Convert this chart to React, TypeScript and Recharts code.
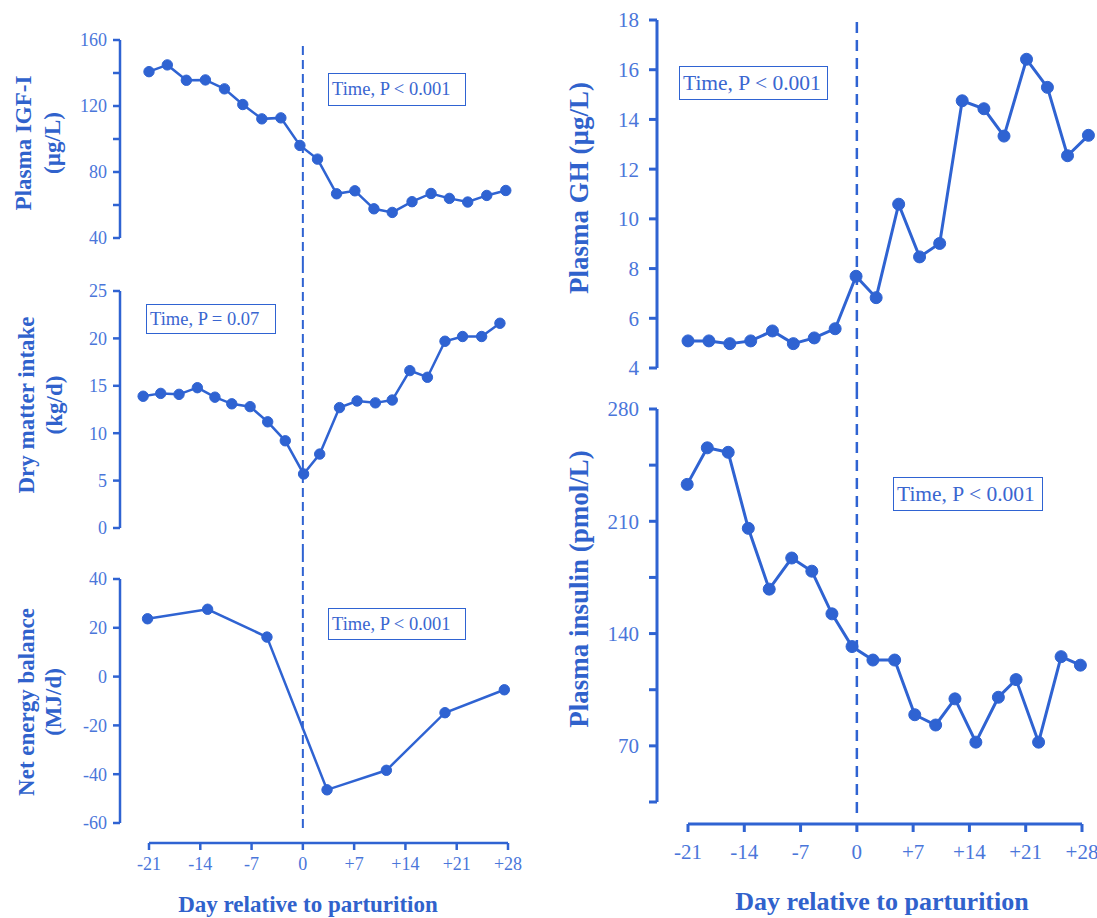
import { LineChart, Line, XAxis, YAxis, ReferenceLine } from "recharts";

const dayTicks = [-21, -14, -7, 0, 7, 14, 21, 28];

const igfDays = [-21.0, -18.5, -15.9, -13.3, -10.7, -8.2, -5.6, -3.0, -0.4, 2.0, 4.6, 7.1, 9.7, 12.2, 14.9, 17.5, 20.0, 22.5, 25.1, 27.7];
const igf = [140.8, 144.9, 135.6, 135.8, 130.4, 120.9, 112.2, 112.8, 96.1, 87.8, 66.8, 68.6, 57.7, 55.5, 62.0, 67.0, 64.0, 61.8, 65.8, 68.8];
const igfTicks = [40, 60, 80, 100, 120, 140, 160];

const dmiDays = [-21.8, -19.4, -16.9, -14.4, -12.0, -9.7, -7.2, -4.8, -2.4, 0.1, 2.3, 5.0, 7.4, 9.9, 12.2, 14.6, 17.0, 19.4, 21.8, 24.4, 26.9];
const dmi = [13.9, 14.2, 14.1, 14.8, 13.8, 13.1, 12.8, 11.2, 9.2, 5.7, 7.8, 12.7, 13.4, 13.2, 13.5, 16.6, 15.9, 19.7, 20.2, 20.2, 21.6];
const dmiTicks = [0, 5, 10, 15, 20, 25];

const nebDays = [-21.2, -13.0, -4.9, 3.3, 11.4, 19.4, 27.5];
const neb = [23.7, 27.6, 16.2, -46.4, -38.4, -14.8, -5.4];
const nebTicks = [-60, -40, -20, 0, 20, 40];

const ghDays = [-21.0, -18.4, -15.8, -13.2, -10.5, -7.9, -5.3, -2.7, -0.1, 2.4, 5.2, 7.8, 10.3, 13.1, 15.8, 18.3, 21.1, 23.7, 26.2, 28.8];
const gh = [5.09, 5.09, 4.98, 5.09, 5.49, 4.98, 5.21, 5.58, 7.69, 6.83, 10.59, 8.47, 9.01, 14.75, 14.43, 13.33, 16.42, 15.29, 12.54, 13.36];
const ghTicks = [4, 6, 8, 10, 12, 14, 16, 18];

const insDays = [-21.1, -18.6, -16.0, -13.5, -10.9, -8.1, -5.6, -3.1, -0.6, 2.0, 4.7, 7.2, 9.8, 12.2, 14.8, 17.6, 19.8, 22.6, 25.4, 27.8];
const insulin = [233, 255.8, 253, 205.6, 167.7, 187.1, 178.9, 152.3, 131.9, 123.5, 123.5, 89.4, 83, 99.3, 72.3, 100.3, 111.3, 72.3, 125.6, 120.3];
const insTicks = [35, 70, 105, 140, 175, 210, 245, 280];

const BLUE = "#2f63d2";
const TICK_BLUE = "#4a76da";
const TITLE_BLUE = "#3062cc";
const FONT = '"Liberation Serif", "Times New Roman", serif';

const fmtDay = (v: number) => (v > 0 ? `+${v}` : `${v}`);

// domain of a whole band, given where two tick values sit in pixels
function bandDomain(hi: number, pxHi: number, lo: number, pxLo: number, top: number, bottom: number): [number, number] {
    const k = (pxLo - pxHi) / (hi - lo);
    return [lo - (bottom - pxLo) / k, hi + (pxHi - top) / k];
}

function valueAt(d: [number, number], top: number, bottom: number, px: number) {
    return d[1] - ((px - top) / (bottom - top)) * (d[1] - d[0]);
}

// left column: -21 at x=149, +28 at x=508, y axis at 120
const pxDayL = (508 - 149) / 49;
const xDomL: [number, number] = [-21 - (149 - 120) / pxDayL, 28 + (540 - 508) / pxDayL];
// right column: -21 at x=688, +28 at x=1082, y axis at 657
const pxDayR = (1082 - 688) / 49;
const xDomR: [number, number] = [-21 - (688 - 657) / pxDayR, 28 + (1097 - 1082) / pxDayR];

const leftStyle = { left: 0, width: 560, marginRight: 20, font: 18, tickSize: 7, yMargin: 6, xMargin: 7, axisW: 2.5, lineW: 2.5, r: 5.2, dash: "9 5", dashW: 2 };
const rightStyle = { left: 537, width: 560, marginRight: 0, font: 21, tickSize: 8, yMargin: 10, xMargin: 12, axisW: 3, lineW: 3, r: 6, dash: "11 7", dashW: 2.5 };

function Panel(p: any) {
    const s = p.style;
    const yDom = bandDomain(p.hi, p.pxHi, p.lo, p.pxLo, p.top, p.bottom);
    const xH = p.showX ? p.xHeight : 0;
    const rows = p.days.map((d: number, i: number) => ({ day: d, v: p.values[i] }));
    const dashFrom = valueAt(yDom, p.top, p.bottom, p.dashTop ?? p.top);
    const dashTo = valueAt(yDom, p.top, p.bottom, p.dashBottom ?? p.bottom);
    const tickStyle = { fill: TICK_BLUE, fontSize: s.font, fontFamily: FONT };

    return (
        <div style={{ position: "absolute", left: s.left, top: p.top }}>
            <LineChart
                width={s.width}
                height={p.bottom - p.top + xH}
                data={rows}
                margin={{ top: 0, right: s.marginRight, bottom: 0, left: 0 }}
            >
                <XAxis
                    type="number"
                    dataKey="day"
                    domain={p.xDom}
                    allowDataOverflow
                    hide={!p.showX}
                    height={xH}
                    ticks={dayTicks}
                    interval={0}
                    tickFormatter={fmtDay}
                    axisLine={false}
                    tickLine={{ stroke: BLUE, strokeWidth: s.axisW }}
                    tickSize={s.tickSize}
                    tickMargin={s.xMargin}
                    tick={tickStyle}
                />
                <YAxis
                    type="number"
                    domain={yDom}
                    allowDataOverflow
                    width={120}
                    ticks={p.ticks}
                    interval={0}
                    tickFormatter={p.fmt}
                    axisLine={false}
                    tickLine={{ stroke: BLUE, strokeWidth: s.axisW }}
                    tickSize={s.tickSize}
                    tickMargin={s.yMargin}
                    tick={tickStyle}
                />
                <ReferenceLine
                    ifOverflow="visible"
                    segment={[{ x: p.xDom[0], y: p.lo }, { x: p.xDom[0], y: p.hi }]}
                    stroke={BLUE}
                    strokeWidth={s.axisW}
                />
                {p.showX && (
                    <ReferenceLine
                        ifOverflow="visible"
                        segment={[{ x: -21, y: yDom[0] }, { x: 28, y: yDom[0] }]}
                        stroke={BLUE}
                        strokeWidth={s.axisW}
                    />
                )}
                <ReferenceLine
                    ifOverflow="visible"
                    segment={[{ x: 0, y: dashFrom }, { x: 0, y: dashTo }]}
                    stroke={BLUE}
                    strokeWidth={s.dashW}
                    strokeDasharray={s.dash}
                />
                <Line
                    type="linear"
                    dataKey="v"
                    stroke={BLUE}
                    strokeWidth={s.lineW}
                    dot={{ r: s.r, fill: BLUE, stroke: BLUE, strokeWidth: 1 }}
                    activeDot={false}
                    isAnimationActive={false}
                />
            </LineChart>
        </div>
    );
}

function VTitle({ x, y, size, lines, lineHeight }: any) {
    return (
        <div
            style={{
                position: "absolute",
                left: x,
                top: y,
                width: 400,
                transform: "translate(-50%, -50%) rotate(-90deg)",
                textAlign: "center",
                fontWeight: "bold",
                fontSize: size,
                lineHeight: `${lineHeight}px`,
                color: TITLE_BLUE,
                whiteSpace: "nowrap",
            }}
        >
            {lines.map((l: string) => (
                <div key={l}>{l}</div>
            ))}
        </div>
    );
}

function StatBox({ x, y, w, h, size, text }: any) {
    return (
        <div
            style={{
                position: "absolute",
                left: x,
                top: y,
                width: w,
                height: h,
                boxSizing: "border-box",
                border: `1.5px solid ${BLUE}`,
                display: "flex",
                alignItems: "center",
                paddingLeft: 3,
                fontSize: size,
                color: "#3a66d0",
                whiteSpace: "nowrap",
            }}
        >
            {text}
        </div>
    );
}

export default function App() {
    const igfFmt = (v: number) => (v % 40 === 0 ? String(v) : "");
    const insFmt = (v: number) => (v % 70 === 0 ? String(v) : "");

    return (
        <div style={{ position: "absolute", left: 0, top: 0, width: 1097, height: 918, background: "#fff", fontFamily: FONT, overflow: "hidden" }}>
            <Panel style={leftStyle} xDom={xDomL} top={18} bottom={264} hi={160} pxHi={40} lo={40} pxLo={238}
                ticks={igfTicks} fmt={igfFmt} days={igfDays} values={igf} dashTop={46} />
            <Panel style={leftStyle} xDom={xDomL} top={264} bottom={553} hi={25} pxHi={291} lo={0} pxLo={528}
                ticks={dmiTicks} days={dmiDays} values={dmi} />
            <Panel style={leftStyle} xDom={xDomL} top={553} bottom={843} hi={40} pxHi={579} lo={-60} pxLo={823}
                ticks={nebTicks} days={nebDays} values={neb} dashBottom={832} showX xHeight={50} />

            <Panel style={rightStyle} xDom={xDomR} top={0} bottom={388} hi={18} pxHi={20} lo={4} pxLo={368}
                ticks={ghTicks} days={ghDays} values={gh} dashTop={22} />
            <Panel style={rightStyle} xDom={xDomR} top={388} bottom={824} hi={280} pxHi={409} lo={35} pxLo={802}
                ticks={insTicks} fmt={insFmt} days={insDays} values={insulin} dashBottom={815} showX xHeight={60} />

            <VTitle x={38} y={143} size={23} lineHeight={29} lines={["Plasma IGF-I", "(µg/L)"]} />
            <VTitle x={41} y={405} size={23} lineHeight={28} lines={["Dry matter intake", "(kg/d)"]} />
            <VTitle x={40} y={702} size={23} lineHeight={27} lines={["Net energy balance", "(MJ/d)"]} />
            <VTitle x={579} y={188} size={27} lineHeight={30} lines={["Plasma GH (µg/L)"]} />
            <VTitle x={579} y={589} size={27} lineHeight={30} lines={["Plasma insulin (pmol/L)"]} />

            <div style={{ position: "absolute", left: 308, top: 905, transform: "translate(-50%, -50%)", fontWeight: "bold", fontSize: 23, color: TITLE_BLUE, whiteSpace: "nowrap" }}>
                Day relative to parturition
            </div>
            <div style={{ position: "absolute", left: 882, top: 902, transform: "translate(-50%, -50%)", fontWeight: "bold", fontSize: 26, color: TITLE_BLUE, whiteSpace: "nowrap" }}>
                Day relative to parturition
            </div>

            <StatBox x={328} y={73} w={138} h={33} size={18.5} text="Time, P < 0.001" />
            <StatBox x={146} y={304} w={130} h={30} size={18.5} text="Time, P = 0.07" />
            <StatBox x={328} y={608} w={138} h={32} size={18.5} text="Time, P < 0.001" />
            <StatBox x={679} y={66} w={149} h={34} size={21.5} text="Time, P < 0.001" />
            <StatBox x={893} y={477} w={150} h={34} size={21.5} text="Time, P < 0.001" />
        </div>
    );
}
